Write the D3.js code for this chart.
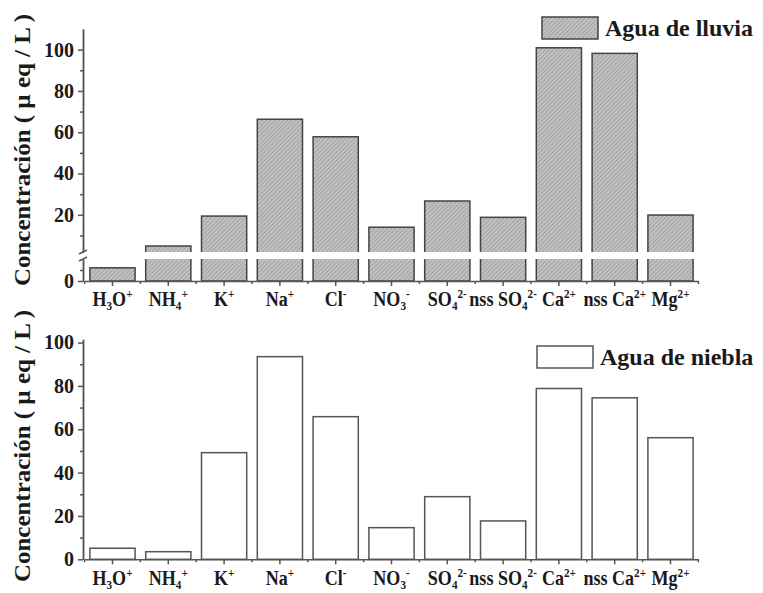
<!DOCTYPE html>
<html>
<head>
<meta charset="utf-8">
<script src="https://cdn.jsdelivr.net/npm/d3@7"></script>
<style>
    body { margin: 0; background: #fff; }
    svg { display: block; }
    text { font-family: "Liberation Serif", "Times New Roman", serif; font-weight: bold; fill: #1a1a1a; }
    .axis path, .axis line { stroke: #555; stroke-width: 1.5; }
</style>
</head>
<body>
<svg id="chart" width="763" height="593"></svg>
<script>
    // ions on the x axis ( _{} = subscript, ^{} = superscript )
    const ions = [
        "H_{3}O^{+}", "NH_{4}^{+}", "K^{+}", "Na^{+}", "Cl^{-}", "NO_{3}^{-}",
        "SO_{4}^{2-}", "nss SO_{4}^{2-}", "Ca^{2+}", "nss Ca^{2+}", "Mg^{2+}"
    ];
    // µeq/L
    const rainValues = [1.2, 4.9, 19.4, 66.3, 57.8, 14.0, 26.7, 18.8, 100.9, 98.2, 19.9];
    const fogValues = [5.1, 3.5, 49.2, 93.5, 65.8, 14.6, 28.9, 17.7, 78.8, 74.5, 56.1];
    const majorTicks = [0, 20, 40, 60, 80, 100];
    const minorTicks = [10, 30, 50, 70, 90];
    const yLabel = "Concentración ( µ eq / L )";

    const svg = d3.select("#chart");
    const serif = '"Liberation Serif", "Times New Roman", serif';

    // hatched fill for the rain bars
    const defs = svg.append("defs");
    const pat = defs.append("pattern")
        .attr("id", "hatch")
        .attr("patternUnits", "userSpaceOnUse")
        .attr("width", 3)
        .attr("height", 3)
        .attr("patternTransform", "rotate(45)");
    pat.append("rect").attr("width", 3).attr("height", 3).attr("fill", "#c2c2c2");
    pat.append("line")
        .attr("x1", 0).attr("y1", 0).attr("x2", 0).attr("y2", 3)
        .attr("stroke", "#8c8c8c").attr("stroke-width", 1.2);

    const x = d3.scaleBand()
        .domain(ions)
        .range([84.6, 698.4])
        .paddingInner(0.19)
        .paddingOuter(0.095);

    function styleAxis(g) {
        g.attr("font-family", serif).attr("font-size", 20).attr("font-weight", "bold");
        g.selectAll("text").attr("fill", "#1a1a1a").attr("dx", "-1");
    }

    function drawLabel(g, str) {
        const t = g.append("text")
            .attr("text-anchor", "middle")
            .attr("transform", "scale(0.86,1)")
            .style("font-size", "21px");
        const parts = str.match(/_\{[^}]*\}|\^\{[^}]*\}|[^_^]+/g);
        let shift = 0;
        parts.forEach((p) => {
            let target = 0, txt = p, small = false;
            if (p[0] === "_") { target = 4; txt = p.slice(2, -1); small = true; }
            else if (p[0] === "^") { target = -8; txt = p.slice(2, -1); small = true; }
            t.append("tspan")
                .attr("dy", target - shift)
                .style("font-size", small ? "13px" : "21px")
                .text(txt);
            shift = target;
        });
    }

    function xAxis(baseY, labelY) {
        svg.append("g")
            .attr("class", "axis")
            .attr("transform", `translate(0,${baseY})`)
            .call(d3.axisBottom(x).tickSize(5).tickSizeOuter(0).tickFormat(""));
        // small ticks between categories
        const step = x.step();
        svg.append("g")
            .selectAll("line")
            .data(d3.range(ions.length + 1))
            .join("line")
            .attr("x1", (k) => x.range()[0] + k * step)
            .attr("x2", (k) => x.range()[0] + k * step)
            .attr("y1", baseY)
            .attr("y2", baseY + 3)
            .attr("stroke", "#555")
            .attr("stroke-width", 1.5);
        ions.forEach((d) => {
            const g = svg.append("g")
                .attr("transform", `translate(${x(d) + x.bandwidth() / 2},${labelY})`);
            drawLabel(g, d);
        });
    }

    function titleY(cy) {
        svg.append("text")
            .attr("transform", `translate(30,${cy}) rotate(-90)`)
            .attr("text-anchor", "middle")
            .attr("textLength", 272)
            .attr("lengthAdjust", "spacingAndGlyphs")
            .style("font-size", "24px")
            .text(yLabel);
    }

    // ---------- top chart: rain water, broken axis ----------
    const yLow = d3.scaleLinear().domain([0, 2]).range([281, 259]);
    const yHigh = d3.scaleLinear().domain([2, 110]).range([252, 29]);
    const yTop = (v) => (v <= 2 ? yLow(v) : yHigh(v));

    svg.append("g")
        .selectAll("rect")
        .data(rainValues)
        .join("rect")
        .attr("x", (d, i) => x(ions[i]))
        .attr("width", x.bandwidth())
        .attr("y", (d) => yTop(d))
        .attr("height", (d) => yLow(0) - yTop(d))
        .attr("fill", "url(#hatch)")
        .attr("stroke", "#444")
        .attr("stroke-width", 1.5);

    // white gap of the break
    svg.append("rect")
        .attr("x", 84).attr("width", 616)
        .attr("y", yHigh(2)).attr("height", yLow(2) - yHigh(2))
        .attr("fill", "#fff");

    svg.append("g")
        .attr("class", "axis")
        .attr("transform", "translate(83,0)")
        .call(d3.axisLeft(yHigh).tickValues(majorTicks.filter((v) => v > 2)).tickSize(5).tickSizeOuter(0).tickFormat(d3.format("d")))
        .call(styleAxis);
    svg.append("g")
        .attr("class", "axis")
        .attr("transform", "translate(83,0)")
        .call(d3.axisLeft(yHigh).tickValues(minorTicks).tickSize(3).tickSizeOuter(0).tickFormat(""));
    svg.append("g")
        .attr("class", "axis")
        .attr("transform", "translate(83,0)")
        .call(d3.axisLeft(yLow).tickValues([0]).tickSize(5).tickSizeOuter(0).tickFormat(d3.format("d")))
        .call(styleAxis);
    svg.append("g")
        .attr("class", "axis")
        .attr("transform", "translate(83,0)")
        .call(d3.axisLeft(yLow).tickValues([1]).tickSize(3).tickSizeOuter(0).tickFormat(""));
    // break marks
    [yHigh(2), yLow(2)].forEach((yy) => {
        svg.append("line")
            .attr("x1", 79).attr("x2", 87)
            .attr("y1", yy + 2).attr("y2", yy - 2)
            .attr("stroke", "#555").attr("stroke-width", 1.5);
    });

    xAxis(281, 306);
    titleY(150);

    svg.append("rect")
        .attr("x", 542).attr("y", 17).attr("width", 56).attr("height", 22)
        .attr("fill", "url(#hatch)").attr("stroke", "#444").attr("stroke-width", 1.5);
    svg.append("text")
        .attr("x", 605).attr("y", 36)
        .style("font-size", "24px")
        .text("Agua de lluvia");

    // ---------- bottom chart: fog water ----------
    const yB = d3.scaleLinear().domain([0, 101.5]).range([559.3, 339.3]);

    svg.append("g")
        .selectAll("rect")
        .data(fogValues)
        .join("rect")
        .attr("x", (d, i) => x(ions[i]))
        .attr("width", x.bandwidth())
        .attr("y", (d) => yB(d))
        .attr("height", (d) => yB(0) - yB(d))
        .attr("fill", "#fff")
        .attr("stroke", "#555")
        .attr("stroke-width", 1.5);

    svg.append("g")
        .attr("class", "axis")
        .attr("transform", "translate(83,0)")
        .call(d3.axisLeft(yB).tickValues(majorTicks).tickSize(5).tickSizeOuter(0).tickFormat(d3.format("d")))
        .call(styleAxis);
    svg.append("g")
        .attr("class", "axis")
        .attr("transform", "translate(83,0)")
        .call(d3.axisLeft(yB).tickValues(minorTicks).tickSize(3).tickSizeOuter(0).tickFormat(""));

    xAxis(559.3, 585);
    titleY(446);

    svg.append("rect")
        .attr("x", 537).attr("y", 346).attr("width", 56).attr("height", 22)
        .attr("fill", "#fff").attr("stroke", "#555").attr("stroke-width", 1.5);
    svg.append("text")
        .attr("x", 600).attr("y", 365)
        .style("font-size", "24px")
        .text("Agua de niebla");
</script>
</body>
</html>
